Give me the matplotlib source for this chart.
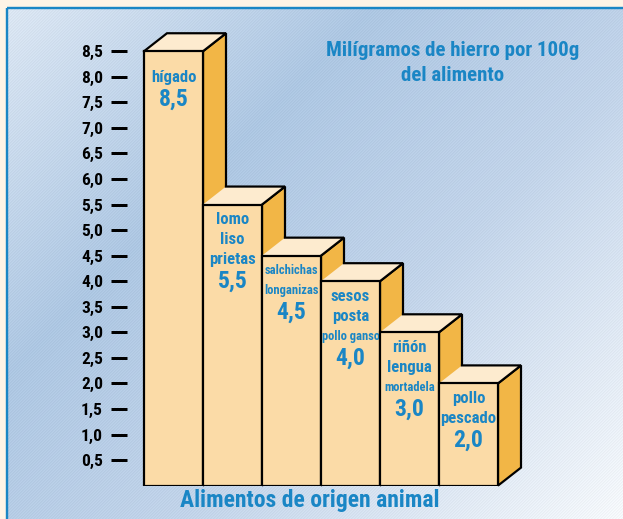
import numpy as np
import matplotlib
matplotlib.use("Agg")
import matplotlib.pyplot as plt
from matplotlib import font_manager
from matplotlib.patches import Polygon

# --- data -------------------------------------------------------------
alimentos = [
    ["hígado"],
    ["lomo", "liso", "prietas"],
    ["salchichas", "longanizas"],
    ["sesos", "posta", "pollo ganso"],
    ["riñón", "lengua", "mortadela"],
    ["pollo", "pescado"],
]
hierro_mg = [8.5, 5.5, 4.5, 4.0, 3.0, 2.0]
ticks_y = [0.5, 1.0, 1.5, 2.0, 2.5, 3.0, 3.5, 4.0, 4.5,
           5.0, 5.5, 6.0, 6.5, 7.0, 7.5, 8.0, 8.5]
tick_labels = ["0,5", "1,0", "1,5", "2,0", "2,5", "3,0", "3,5", "4,0", "4,5",
               "5,0", "5,5", "6,0", "6,5", "7,0", "7,5", "8,0", "8,5"]
titulo = "Milígramos de hierro por 100g\ndel alimento"
eje_x = "Alimentos de origen animal"

# --- style ------------------------------------------------------------
W, H = 623, 519
FRONT = "#FBDBA7"
SIDE = "#F2B646"
TOP = "#FDEBCF"
BLUE = "#1A86C5"
CREAM = "#FEF4E6"

names = {f.name for f in font_manager.fontManager.ttflist}
stretch = "normal"
if "Roboto Condensed" in names:
    FAM = "Roboto Condensed"
elif "Liberation Sans Narrow" in names:
    FAM = "Liberation Sans Narrow"
elif any(f.name == "DejaVu Sans" and f.stretch == "condensed"
         for f in font_manager.fontManager.ttflist):
    FAM, stretch = "DejaVu Sans", "condensed"
else:
    FAM = "DejaVu Sans"
plt.rcParams["font.family"] = [FAM, "DejaVu Sans"]
plt.rcParams["font.stretch"] = stretch
plt.rcParams["font.weight"] = "bold"
plt.rcParams["axes.labelweight"] = "bold"

PT = 72.0 / 100.0  # points per pixel at dpi 100

fig = plt.figure(figsize=(W / 100, H / 100), dpi=100)

# --- panel background -------------------------------------------------
bg = fig.add_axes([0, 0, 1, 1], zorder=0)
yy, xx = np.mgrid[0:H, 0:W].astype(float)
s = xx + yy
stops_s = [0, 380, 700, 1140]
stops_c = np.array([[0.87, 0.91, 0.955],
                    [0.68, 0.78, 0.888],
                    [0.76, 0.83, 0.915],
                    [0.965, 0.975, 0.985]])
img = np.stack([np.interp(s, stops_s, stops_c[:, k]) for k in range(3)], axis=-1)
img += 0.018 * np.sin(2 * np.pi * s / 3.0)[..., None]
img = np.clip(img, 0, 1)
bg.imshow(img, extent=[0, W, H, 0], interpolation="nearest")
bg.set_xlim(0, W)
bg.set_ylim(H, 0)
bg.axis("off")
bg.fill_between([0, W], [0, 0], [7.5, 7.5], color=CREAM, lw=0)
bg.fill_between([0, 6.5], [0, 0], [H, H], color=CREAM, lw=0)
bg.plot([6.5, W], [8.2, 8.2], color=BLUE, lw=2.4 * PT, solid_capstyle="butt")
bg.plot([7.2, 7.2], [8.2, H], color=BLUE, lw=2.4 * PT, solid_capstyle="butt")

# --- main axes ----------------------------------------------------------
AX_X0, AX_X1 = 127, 600
AX_Y0, AX_Y1 = 33.4, 505        # from bottom
PX_X, PX_Y = 59.0, 51.1          # pixels per data unit
BAR_X0 = 144
ax = fig.add_axes([AX_X0 / W, AX_Y0 / H, (AX_X1 - AX_X0) / W, (AX_Y1 - AX_Y0) / H],
                  zorder=1)
ax.patch.set_alpha(0)
ax.set_xlim(-(BAR_X0 - AX_X0) / PX_X, (AX_X1 - BAR_X0) / PX_X)
ax.set_ylim(0, (AX_Y1 - AX_Y0) / PX_Y)
for sp in ax.spines.values():
    sp.set_visible(False)
ax.set_xticks([])
ax.set_yticks(ticks_y)
ax.set_yticklabels(tick_labels)
ax.tick_params(axis="y", direction="out", length=16 * PT, width=3 * PT,
               pad=8 * PT, labelsize=12.5, colors="black")

dx, dy = 23 / PX_X, 18 / PX_Y
EW = 2.2 * PT
xs = np.arange(len(hierro_mg))
for i, (x, v) in enumerate(zip(xs, hierro_mg)):
    z = 2 + i
    # right face
    ax.add_patch(Polygon([(x + 1, 0), (x + 1 + dx, dy), (x + 1 + dx, v + dy), (x + 1, v)],
                         closed=True, fc=SIDE, ec="black", lw=EW, zorder=z,
                         joinstyle="miter", clip_on=False))
    # top face
    ax.add_patch(Polygon([(x, v), (x + dx, v + dy), (x + 1 + dx, v + dy), (x + 1, v)],
                         closed=True, fc=TOP, ec="none", zorder=z + 0.1,
                         clip_on=False))
    outline = [(x + dx, v + dy), (x + 1 + dx, v + dy), (x + 1, v)]
    if i == 0:
        outline = [(x, v)] + outline
    ax.plot([p[0] for p in outline], [p[1] for p in outline], color="black",
            lw=EW, zorder=z + 0.2, solid_joinstyle="miter", clip_on=False)
    # front face
    ax.bar(x, v, width=1, align="edge", color=FRONT, edgecolor="black",
           linewidth=EW, zorder=z + 0.3)

    # labels inside the front face
    first = 26 if i == 0 else 15
    for k, line in enumerate(alimentos[i]):
        size = 9.0 if len(line) > 8 else 12.0
        ax.annotate(line, (x + 0.5, v), xytext=(0, -(first + 20 * k) * PT),
                    textcoords="offset points", ha="center", va="center",
                    color=BLUE, fontsize=size, zorder=z + 0.4)
    val_off = first + 20 * (len(alimentos[i]) - 1) + 22
    ax.annotate(f"{v:.1f}".replace(".", ","), (x + 0.5, v),
                xytext=(0, -val_off * PT), textcoords="offset points",
                ha="center", va="center", color=BLUE,
                fontsize=17, zorder=z + 0.4)

# --- titles -------------------------------------------------------------
fig.text(453 / W, 1 - 63 / H, titulo, ha="center", va="center", color=BLUE,
         fontsize=15, linespacing=1.35)
ax.set_xlabel(eje_x, color=BLUE, fontsize=17)
ax.xaxis.set_label_coords((310 - AX_X0) / (AX_X1 - AX_X0),
                          (H - 500 - AX_Y0) / (AX_Y1 - AX_Y0))
ax.xaxis.label.set_va("center")

fig.savefig("out.png", dpi=100)
